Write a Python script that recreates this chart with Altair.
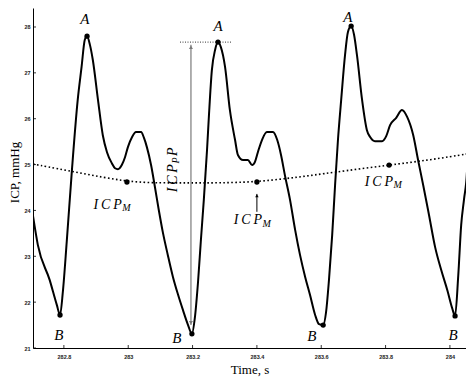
import altair as alt
import pandas as pd

# ---- data ----
time_s = [282.704, 282.719, 282.756, 282.778, 282.788, 282.797, 282.809, 282.825, 282.843, 282.855,
          282.865, 282.872, 282.881, 282.890, 282.906, 282.921, 282.934, 282.949, 282.959, 282.968,
          282.980, 282.990, 282.999, 283.012, 283.024, 283.040, 283.049, 283.058, 283.071, 283.083,
          283.095, 283.108, 283.123, 283.139, 283.155, 283.170, 283.186, 283.198, 283.207, 283.217,
          283.226, 283.235, 283.245, 283.251, 283.260, 283.270, 283.279, 283.288, 283.301, 283.316,
          283.332, 283.341, 283.357, 283.372, 283.385, 283.394, 283.403, 283.416, 283.431, 283.450,
          283.463, 283.475, 283.487, 283.503, 283.519, 283.534, 283.550, 283.565, 283.581, 283.593,
          283.606, 283.615, 283.624, 283.634, 283.643, 283.652, 283.662, 283.674, 283.683, 283.693,
          283.702, 283.711, 283.727, 283.742, 283.752, 283.767, 283.789, 283.802, 283.814, 283.833,
          283.851, 283.867, 283.886, 283.901, 283.917, 283.935, 283.954, 283.973, 283.992, 284.007,
          284.016, 284.026, 284.035, 284.044, 284.053, 284.060, 284.066]
icp_mmhg = [23.88, 23.25, 22.48, 21.94, 21.72, 22.24, 23.33, 24.88, 26.41, 27.13,
            27.72, 27.80, 27.61, 27.28, 26.41, 25.64, 25.27, 25.03, 24.92, 24.90,
            24.99, 25.16, 25.38, 25.60, 25.71, 25.71, 25.58, 25.38, 24.99, 24.51,
            24.01, 23.51, 23.03, 22.55, 22.16, 21.83, 21.50, 21.31, 21.65, 22.44,
            23.36, 24.23, 25.32, 26.08, 27.06, 27.50, 27.67, 27.56, 27.13, 26.19,
            25.54, 25.21, 25.10, 25.10, 24.99, 25.06, 25.27, 25.54, 25.71, 25.71,
            25.54, 25.21, 24.77, 24.23, 23.57, 23.03, 22.55, 22.16, 21.72, 21.52,
            21.50, 21.78, 22.48, 23.46, 24.55, 25.54, 26.41, 27.39, 27.89, 28.02,
            27.83, 27.39, 26.41, 25.75, 25.60, 25.51, 25.51, 25.62, 25.86, 26.02,
            26.19, 26.04, 25.64, 25.10, 24.55, 23.90, 23.20, 22.70, 22.26, 21.87,
            21.70, 22.59, 23.68, 24.25, 24.84, 26.41, 27.06]

mean_t = [282.704, 282.850, 282.996, 283.099, 283.192, 283.285, 283.400, 283.534, 283.627, 283.811, 283.938, 284.069]
mean_v = [25.01, 24.82, 24.62, 24.60, 24.60, 24.60, 24.62, 24.73, 24.82, 24.99, 25.10, 25.25]

a_t = [282.872, 283.279, 283.693]
a_v = [27.80, 27.67, 28.02]
b_t = [282.788, 283.198, 283.606, 284.016]
b_v = [21.72, 21.31, 21.50, 21.70]
m_t = [282.996, 283.400, 283.811]
m_v = [24.62, 24.62, 24.99]

a_lab_t = [282.865, 283.279, 283.683]
a_lab_v = [28.17, 28.02, 28.22]
b_lab_t = [282.784, 283.151, 283.571, 284.010]
b_lab_v = [21.28, 21.22, 21.26, 21.28]
m_lab_t = [282.980, 283.416, 283.823]
m_lab_v = [24.12, 23.79, 24.62]
pp_lab_t = [283.139]
pp_lab_v = [25.01]

pp_arrow_t = [283.195]
pp_arrow_top = [27.61]
pp_arrow_bottom = [21.50]
m_arrow_t = [283.400]
m_arrow_from = [23.97]
m_arrow_to = [24.36]
a2_level_t = [283.161, 283.323]
a2_level_v = [27.67, 27.67]

xticks = [282.8, 283.0, 283.2, 283.4, 283.6, 283.8, 284.0]
yticks = [21, 22, 23, 24, 25, 26, 27, 28]

W, H = 433, 340
SERIF = "Liberation Serif"
xs = alt.Scale(domain=[282.704, 284.05], nice=False, zero=False)
ys = alt.Scale(domain=[21, 28.414], nice=False, zero=False)

x_axis = alt.Axis(values=xticks, format="~g", title="Time, s", titleFont=SERIF, titleFontSize=13,
                  titleFontWeight="normal", titleColor="black", titlePadding=4,
                  labelFont="Liberation Sans", labelFontSize=5.5, labelFontWeight="bold",
                  labelColor="#222", labelPadding=6, tickSize=0, domainColor="black",
                  domainWidth=1, grid=False)
y_axis = alt.Axis(values=yticks, format="d", title="ICP, mmHg", titleFont=SERIF, titleFontSize=13,
                  titleFontWeight="normal", titleColor="black", titleAngle=270, titleX=-15,
                  titleY=164, titleAlign="center", titleBaseline="alphabetic",
                  labelFont="Liberation Sans", labelFontSize=5.5, labelFontWeight="bold",
                  labelColor="#222", labelPadding=3, tickSize=0, domainColor="black",
                  domainWidth=1, grid=False)


def X(field="t"):
    return alt.X(f"{field}:Q", scale=xs, axis=x_axis)


def Y(field="v"):
    return alt.Y(f"{field}:Q", scale=ys, axis=y_axis)


wave_df = pd.DataFrame({"t": time_s, "v": icp_mmhg})
mean_df = pd.DataFrame({"t": mean_t, "v": mean_v})

wave = alt.Chart(wave_df).mark_line(color="black", strokeWidth=2, interpolate="monotone", clip=True).encode(
    x=X(), y=Y())
mean_line = alt.Chart(mean_df).mark_line(color="black", strokeWidth=1.6, strokeDash=[1.6, 2.4],
                                         interpolate="basis", clip=True).encode(x=X(), y=Y())

pts_df = pd.DataFrame({"t": a_t + b_t + m_t, "v": a_v + b_v + m_v})
pts = alt.Chart(pts_df).mark_circle(color="black", size=28, opacity=1).encode(x=X(), y=Y())

xt = alt.Chart(pd.DataFrame({"t": xticks})).mark_rule(color="black", strokeWidth=0.8).encode(
    x=X(), y=alt.value(H), y2=alt.value(H - 3))
yt = alt.Chart(pd.DataFrame({"v": yticks})).mark_rule(color="black", strokeWidth=0.8).encode(
    y=Y(), x=alt.value(0), x2=alt.value(3))

lab_df = pd.DataFrame({"t": a_lab_t + b_lab_t, "v": a_lab_v + b_lab_v,
                       "s": ["A"] * len(a_lab_t) + ["B"] * len(b_lab_t)})
ab_labels = alt.Chart(lab_df).mark_text(font=SERIF, fontStyle="italic", fontSize=15, color="black",
                                        baseline="middle", align="center").encode(
    x=X(), y=Y(), text="s:N")

mlab_df = pd.DataFrame({"t": m_lab_t, "v": m_lab_v, "s": ["I\u2009C\u2009P"] * len(m_lab_t),
                        "sub": ["M"] * len(m_lab_t)})
m_main = alt.Chart(mlab_df).mark_text(font=SERIF, fontStyle="italic", fontSize=14, color="black",
                                      align="right", baseline="middle").encode(x=X(), y=Y(), text="s:N")
m_sub = alt.Chart(mlab_df).mark_text(font=SERIF, fontStyle="italic", fontSize=10, color="black",
                                     align="left", baseline="middle", dx=0.5, dy=3.5).encode(
    x=X(), y=Y(), text="sub:N")

pp_df = pd.DataFrame({"t": pp_lab_t, "v": pp_lab_v, "s": ["I\u2009C\u2009P"], "sub": ["P"], "tail": ["P"]})
pp_main = alt.Chart(pp_df).mark_text(font=SERIF, fontStyle="italic", fontSize=14, color="black", angle=270,
                                     align="right", baseline="middle").encode(x=X(), y=Y(), text="s:N")
pp_sub = alt.Chart(pp_df).mark_text(font=SERIF, fontStyle="italic", fontSize=10, color="black", angle=270,
                                    align="left", baseline="middle", dx=0.5, dy=3.5).encode(
    x=X(), y=Y(), text="sub:N")
pp_tail = alt.Chart(pp_df).mark_text(font=SERIF, fontStyle="italic", fontSize=14, color="black", angle=270,
                                     align="left", baseline="middle", dx=8).encode(x=X(), y=Y(), text="tail:N")

pp_arrow_df = pd.DataFrame({"t": pp_arrow_t, "v": pp_arrow_bottom, "v2": pp_arrow_top})
pp_rule = alt.Chart(pp_arrow_df).mark_rule(color="#7a7a7a", strokeWidth=1.2).encode(
    x=X(), y=Y(), y2="v2:Q")
pp_head_df = pd.DataFrame({"t": pp_arrow_t * 2, "v": [pp_arrow_top[0] - 0.05, pp_arrow_bottom[0] + 0.05],
                           "shape": ["triangle-up", "triangle-down"]})
pp_heads = alt.Chart(pp_head_df).mark_point(filled=True, color="#7a7a7a", size=16, opacity=1).encode(
    x=X(), y=Y(), shape=alt.Shape("shape:N", scale=None))

m_arrow_df = pd.DataFrame({"t": m_arrow_t, "v": m_arrow_from, "v2": m_arrow_to})
m_rule = alt.Chart(m_arrow_df).mark_rule(color="black", strokeWidth=1).encode(x=X(), y=Y(), y2="v2:Q")
m_head = alt.Chart(pd.DataFrame({"t": m_arrow_t, "v": [m_arrow_to[0] - 0.04]})).mark_point(
    filled=True, color="black", size=12, shape="triangle-up", opacity=1).encode(x=X(), y=Y())

a2_df = pd.DataFrame({"t": a2_level_t, "v": a2_level_v})
a2_line = alt.Chart(a2_df).mark_line(color="black", strokeWidth=0.8, strokeDash=[1, 1.5]).encode(
    x=X(), y=Y())

chart = alt.layer(
    wave, mean_line, a2_line, pp_rule, pp_heads, m_rule, m_head, pts, xt, yt,
    ab_labels, m_main, m_sub, pp_main, pp_sub, pp_tail
).properties(
    width=W, height=H,
    autosize=alt.AutoSizeParams(type="none"),
    padding={"left": 25, "top": 0, "right": 0, "bottom": 29},
    background="white",
).configure_view(strokeWidth=0)

chart.save("out.html", embed_options={"renderer": "svg", "actions": False})
